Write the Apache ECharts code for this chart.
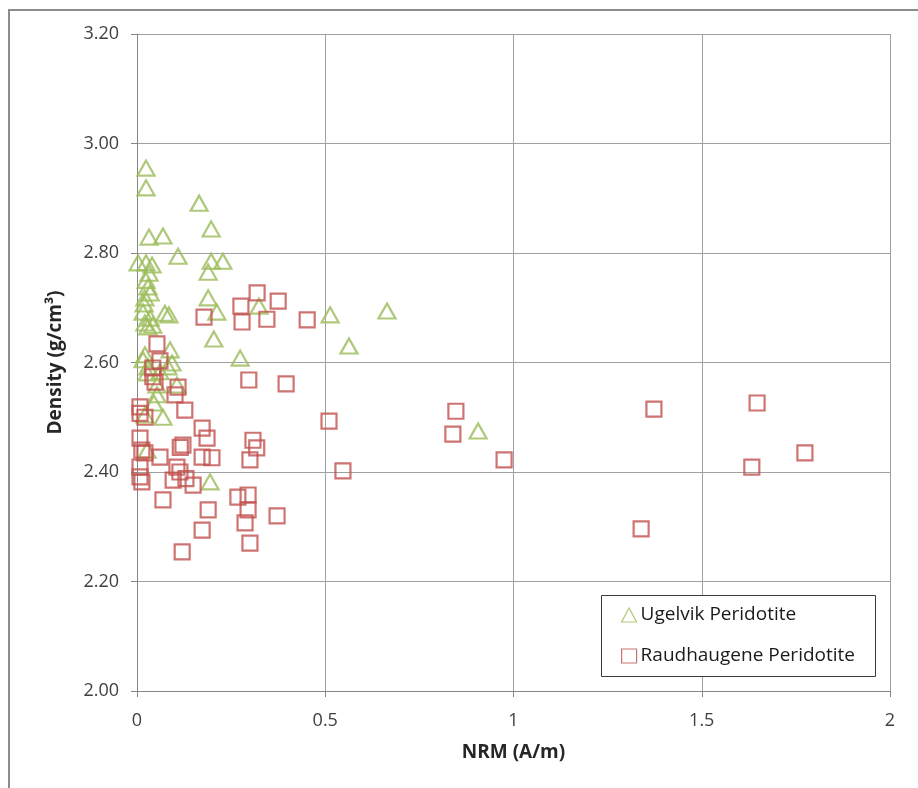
<!DOCTYPE html>
<html>
<head>
<meta charset="utf-8">
<title>Density vs NRM</title>
<script src="https://cdn.jsdelivr.net/npm/echarts@6/dist/echarts.min.js"></script>
<style>
  html, body { margin: 0; padding: 0; background: #ffffff; }
  #chart { width: 918px; height: 788px; }
</style>
</head>
<body>
<div id="chart"></div>
<script>
// Ugelvik Peridotite samples: NRM (A/m) and density (g/cm³)
const ugelvikNRM = [
  0.024, 0.024, 0.165, 0.197, 0.032, 0.069, 0.109, 0.197, 0.228, 0.189,
  0.003, 0.024, 0.040, 0.032, 0.024, 0.029, 0.035, 0.021, 0.189, 0.019,
  0.074, 0.085, 0.016, 0.212, 0.324, 0.513, 0.664, 0.035, 0.021, 0.042,
  0.029, 0.204, 0.563, 0.274, 0.088, 0.021, 0.016, 0.029, 0.082, 0.093,
  0.061, 0.027, 0.106, 0.053, 0.053, 0.045, 0.069, 0.021, 0.027, 0.194,
  0.906
];
const ugelvikDensity = [
  2.955, 2.919, 2.891, 2.844, 2.829, 2.831, 2.794, 2.785, 2.785, 2.765,
  2.782, 2.782, 2.778, 2.763, 2.750, 2.738, 2.727, 2.718, 2.718, 2.707,
  2.690, 2.687, 2.692, 2.692, 2.703, 2.687, 2.694, 2.681, 2.672, 2.668,
  2.665, 2.643, 2.630, 2.608, 2.623, 2.614, 2.605, 2.592, 2.592, 2.599,
  2.583, 2.581, 2.559, 2.559, 2.541, 2.526, 2.500, 2.504, 2.440, 2.382,
  2.475
];

// Raudhaugene Peridotite samples: NRM (A/m) and density (g/cm³)
const raudNRM = [
  0.053, 0.061, 0.042, 0.042, 0.048, 0.109, 0.101, 0.127, 0.008, 0.008,
  0.021, 0.297, 0.396, 0.173, 0.186, 0.008, 0.122, 0.013, 0.021, 0.061,
  0.173, 0.199, 0.008, 0.008, 0.013, 0.106, 0.114, 0.096, 0.130, 0.149,
  0.069, 0.189, 0.173, 0.120, 0.268, 0.295, 0.295, 0.287, 0.300, 0.308,
  0.318, 0.300, 0.319, 0.375, 0.276, 0.178, 0.279, 0.345, 0.452, 0.510,
  0.547, 0.372, 0.847, 0.839, 0.975, 1.373, 1.647, 1.774, 1.633, 1.339,
  0.115
];
const raudDensity = [
  2.634, 2.603, 2.590, 2.574, 2.564, 2.555, 2.541, 2.513, 2.519, 2.507,
  2.500, 2.568, 2.561, 2.480, 2.462, 2.462, 2.449, 2.440, 2.435, 2.427,
  2.427, 2.426, 2.409, 2.391, 2.382, 2.409, 2.400, 2.385, 2.388, 2.376,
  2.349, 2.331, 2.294, 2.254, 2.354, 2.358, 2.331, 2.307, 2.270, 2.458,
  2.444, 2.422, 2.727, 2.712, 2.703, 2.683, 2.674, 2.679, 2.678, 2.493,
  2.402, 2.320, 2.511, 2.469, 2.422, 2.515, 2.526, 2.435, 2.409, 2.296,
  2.445
];

const seriesNames = ['Ugelvik Peridotite', 'Raudhaugene Peridotite'];
const xTitle = 'NRM (A/m)';
const yTitle = 'Density (g/cm³)';

const GREEN = '#9BBB59';
const RED = '#C0504D';
const FONT = '"Open Sans", "Noto Sans", sans-serif';

function pairs(xs, ys) {
  return xs.map((x, i) => [x, ys[i]]);
}

const chart = echarts.init(document.getElementById('chart'), null, { renderer: 'canvas' });

chart.setOption({
  animation: false,
  backgroundColor: '#ffffff',
  textStyle: { fontFamily: FONT },
  grid: { left: 137, right: 28, top: 34, bottom: 97, containLabel: false },
  graphic: [
    {
      // outer chart frame
      type: 'rect',
      silent: true,
      z: 100,
      shape: { x: 9, y: 10, width: 1000, height: 1000 },
      style: { fill: 'none', stroke: '#8c8c8c', lineWidth: 2 }
    },
    {
      // legend frame
      type: 'rect',
      silent: true,
      z: 90,
      shape: { x: 601.5, y: 595.5, width: 274, height: 81 },
      style: { fill: '#ffffff', stroke: '#3a3a3a', lineWidth: 1 }
    }
  ],
  legend: {
    orient: 'vertical',
    left: 621,
    top: 605,
    z: 95,
    itemWidth: 15,
    itemHeight: 14,
    itemGap: 21,
    padding: 0,
    itemStyle: { borderWidth: 1.2 },
    textStyle: { fontFamily: FONT, fontSize: 19, color: '#1a1a1a', lineHeight: 20, padding: [0, 0, 0, -1] },
    data: seriesNames
  },
  xAxis: {
    type: 'value',
    min: 0,
    max: 2,
    interval: 0.5,
    name: xTitle,
    nameLocation: 'middle',
    nameGap: 52,
    nameTextStyle: { fontFamily: FONT, fontSize: 19, fontWeight: 'bold', color: '#262626' },
    axisLine: { show: true, onZero: false, lineStyle: { color: '#868686', width: 1 } },
    axisTick: { show: true, length: 6, lineStyle: { color: '#868686' } },
    axisLabel: { margin: 21, fontFamily: FONT, fontSize: 18, color: '#404040' },
    splitLine: { show: true, lineStyle: { color: '#a0a0a0', width: 1 } }
  },
  yAxis: {
    type: 'value',
    min: 2,
    max: 3.2,
    interval: 0.2,
    name: yTitle,
    nameLocation: 'middle',
    nameGap: 72,
    nameRotate: 90,
    nameTextStyle: { fontFamily: FONT, fontSize: 19, fontWeight: 'bold', color: '#262626' },
    axisLine: { show: true, onZero: false, lineStyle: { color: '#868686', width: 1 } },
    axisTick: { show: true, length: 6, lineStyle: { color: '#868686' } },
    axisLabel: {
      margin: 18,
      fontFamily: FONT,
      fontSize: 18,
      color: '#404040',
      formatter: v => v.toFixed(2)
    },
    splitLine: { show: true, lineStyle: { color: '#a0a0a0', width: 1 } }
  },
  series: [
    {
      name: seriesNames[0],
      type: 'scatter',
      symbol: 'triangle',
      symbolSize: [17, 15],
      itemStyle: { color: 'rgba(0,0,0,0)', borderColor: GREEN, borderWidth: 2.2 },
      emphasis: { disabled: true },
      data: pairs(ugelvikNRM, ugelvikDensity)
    },
    {
      name: seriesNames[1],
      type: 'scatter',
      symbol: 'rect',
      symbolSize: 15,
      itemStyle: { color: 'rgba(0,0,0,0)', borderColor: RED, borderWidth: 2.2 },
      emphasis: { disabled: true },
      data: pairs(raudNRM, raudDensity)
    }
  ]
});
</script>
</body>
</html>
